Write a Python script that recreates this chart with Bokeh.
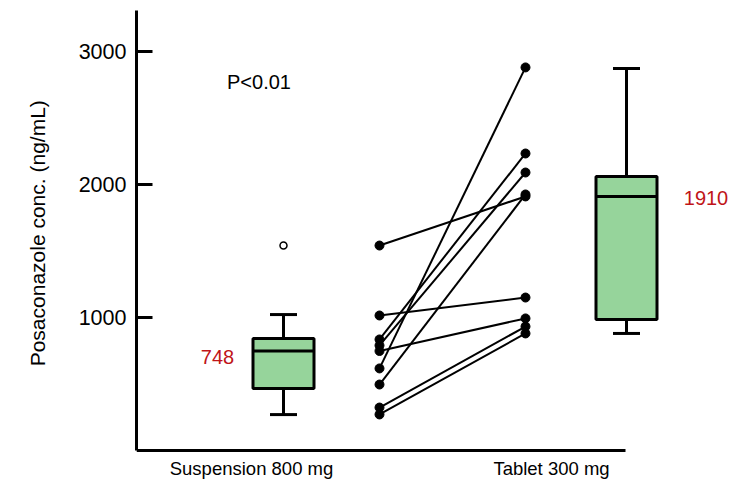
import math
from bokeh.plotting import figure
from bokeh.layouts import row
from bokeh.models import Range1d, FixedTicker, ColumnDataSource
from bokeh.core.properties import value
from bokeh.embed import file_html
from bokeh.resources import INLINE

# ---- data ----
suspension = [1541, 1015, 835, 790, 748, 617, 496, 323, 271]
tablet = [1910, 1150, 2233, 2090, 993, 2880, 1925, 932, 880]

group_labels = ["Suspension 800 mg", "Tablet 300 mg"]
box_q1 = [466, 985]
box_median = [748, 1910]
box_q3 = [842, 2060]
box_low = [270, 880]
box_high = [1022, 2872]
outliers = [1541]
median_labels = ["748", "1910"]
y_ticks = [1000, 2000, 3000]
y_title = "Posaconazole conc. (ng/mL)"
p_text = "P<0.01"

# ---- layout constants ----
X_BOX = [1.47, 4.90]
X_PAIR = [2.43, 3.89]
X_GROUP_LABEL = [1.15, 4.15]
X_MED_LABEL = [0.81, 5.695]
X_AXIS_END = 4.89
BOX_W = 0.61
CAP_W = 0.27
FONT = "Liberation Sans"
GREEN = "#96D49B"
RED = "#C01418"
TITLE_W = 60
H = 479

# narrow panel holding the y-axis title
t = figure(width=TITLE_W, height=H, output_backend="svg", toolbar_location=None,
           x_range=Range1d(0, TITLE_W), y_range=Range1d(0, H),
           min_border=0)
t.axis.visible = False
t.grid.visible = False
t.outline_line_color = None
t.text(x=[37], y=[H - 227.5], text=[y_title], angle=math.pi / 2, text_align="center",
       text_baseline="middle", text_font=value(FONT), text_font_size="21px",
       text_color="black")

p = figure(width=744 - TITLE_W, height=H, output_backend="svg", toolbar_location=None,
           x_range=Range1d(0, 6.08), y_range=Range1d(-218, 3308),
           min_border_left=136 - TITLE_W, min_border_right=0, min_border_top=10,
           min_border_bottom=0)
p.outline_line_color = None
p.grid.visible = False
p.xaxis.visible = False

ya = p.yaxis[0]
ya.ticker = FixedTicker(ticks=y_ticks)
ya.bounds = (0, 3308)
ya.axis_line_width = 3
ya.major_tick_line_width = 3
ya.major_tick_in = 16
ya.major_tick_out = 0
ya.minor_tick_line_color = None
ya.major_label_text_font = FONT
ya.major_label_text_font_size = "21.5px"
ya.major_label_text_color = "black"
ya.major_label_standoff = 10

# x axis line (drawn inside the frame at y=0)
p.segment(x0=[0], y0=[0], x1=[X_AXIS_END], y1=[0], line_color="black", line_width=3)

# group labels
p.text(x=X_GROUP_LABEL, y=[-138, -138], text=group_labels, text_align="center",
       text_baseline="alphabetic", text_font=value(FONT), text_font_size="18.5px",
       text_color="black")

# paired lines and points
pairs = ColumnDataSource(dict(x0=[X_PAIR[0]] * len(suspension), y0=suspension,
                              x1=[X_PAIR[1]] * len(tablet), y1=tablet))
p.segment(x0="x0", y0="y0", x1="x1", y1="y1", source=pairs, line_color="black", line_width=2)
p.scatter(x=[X_PAIR[0]] * len(suspension), y=suspension, size=9, color="black")
p.scatter(x=[X_PAIR[1]] * len(tablet), y=tablet, size=9, color="black")

# box plots
p.segment(x0=X_BOX, y0=box_low, x1=X_BOX, y1=box_q1, line_color="black", line_width=3)
p.segment(x0=X_BOX, y0=box_q3, x1=X_BOX, y1=box_high, line_color="black", line_width=3)
p.segment(x0=[x - CAP_W / 2 for x in X_BOX], y0=box_low,
          x1=[x + CAP_W / 2 for x in X_BOX], y1=box_low, line_color="black", line_width=3)
p.segment(x0=[x - CAP_W / 2 for x in X_BOX], y0=box_high,
          x1=[x + CAP_W / 2 for x in X_BOX], y1=box_high, line_color="black", line_width=3)
p.quad(left=[x - BOX_W / 2 for x in X_BOX], right=[x + BOX_W / 2 for x in X_BOX],
       bottom=box_q1, top=box_q3, fill_color=GREEN, line_color="black", line_width=3)
p.segment(x0=[x - BOX_W / 2 for x in X_BOX], y0=box_median,
          x1=[x + BOX_W / 2 for x in X_BOX], y1=box_median, line_color="black", line_width=3)
p.scatter(x=[X_BOX[0]] * len(outliers), y=outliers, size=7, fill_color="white",
          line_color="black", line_width=1.5)

# median labels
p.text(x=X_MED_LABEL, y=box_median, text=median_labels, text_align="center",
       text_baseline="middle", y_offset=[6, 2], text_font=value(FONT),
       text_font_size="20px", text_color=RED)

# p value
p.text(x=[1.225], y=[2767], text=[p_text], text_align="center", text_baseline="middle",
       text_font=value(FONT), text_font_size="20px", text_color="black")

layout = row(t, p, spacing=0)
open("out.html", "w").write(file_html(layout, INLINE))
